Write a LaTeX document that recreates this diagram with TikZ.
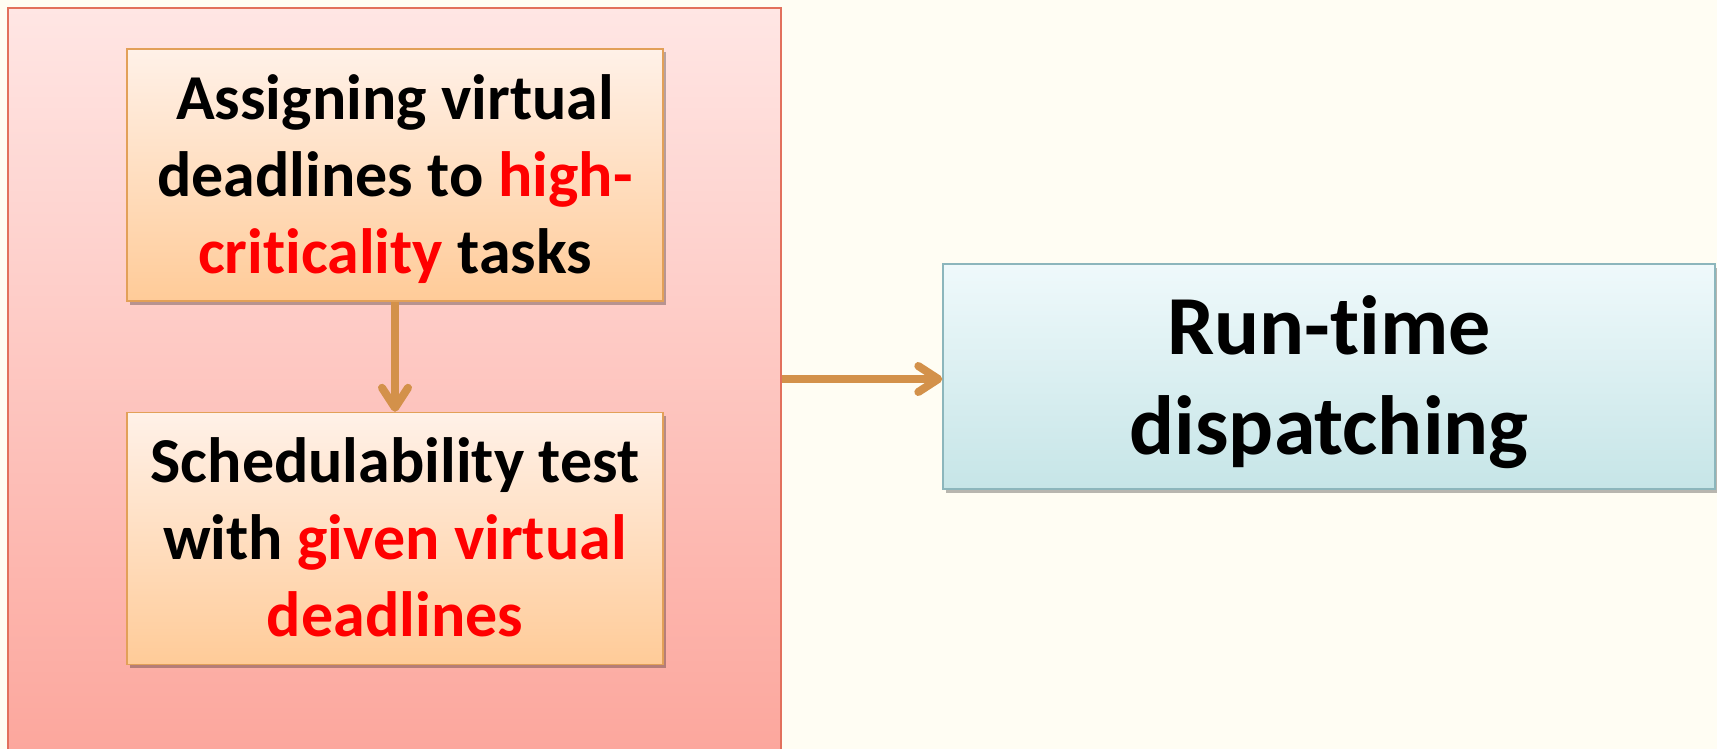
\documentclass[tikz,border=0pt]{standalone}
\usepackage{fontspec}
\setmainfont{Carlito}[Ligatures=NoCommon]
\usetikzlibrary{arrows.meta,shadows}

\definecolor{paper}{RGB}{255,253,243}
\definecolor{pinktop}{RGB}{255,230,228}
\definecolor{pinkbot}{RGB}{252,166,156}
\definecolor{pinkline}{RGB}{226,112,92}
\definecolor{peachtop}{RGB}{255,241,232}
\definecolor{peachbot}{RGB}{255,203,152}
\definecolor{peachline}{RGB}{226,160,88}
\definecolor{bluetop}{RGB}{239,249,251}
\definecolor{bluebot}{RGB}{198,229,231}
\definecolor{blueline}{RGB}{140,182,188}
\definecolor{flow}{RGB}{211,145,74}
\definecolor{hot}{RGB}{255,0,0}

\tikzset{
  softshadow/.style={drop shadow={shadow xshift=2.5pt,shadow yshift=-3.5pt,opacity=0.28,fill=black}},
  stagebox/.style={draw=pinkline,line width=1.4pt,top color=pinktop,bottom color=pinkbot,
    minimum width=773pt,minimum height=752pt,inner sep=0pt},
  % the text box of a multi-line node sits on its last baseline
  taskbox/.style={draw=peachline,line width=1.4pt,top color=peachtop,bottom color=peachbot,
    minimum width=536pt,minimum height=252pt,inner sep=0pt,align=center,softshadow,
    text height=198pt,text depth=2pt,
    font=\bfseries\fontsize{64}{77}\selectfont},
  runbox/.style={draw=blueline,line width=1.4pt,top color=bluetop,bottom color=bluebot,
    minimum width=772pt,minimum height=225pt,inner sep=0pt,align=center,softshadow,
    text height=156pt,text depth=1pt,
    font=\bfseries\fontsize{84}{100}\selectfont},
  flowarrow/.style={draw=flow,line width=8pt,
    -{Straight Barb[length=20pt,width=26pt,round]},
    preaction={draw=black,opacity=0.15,transform canvas={xshift=2pt,yshift=-3pt}}},
}

\begin{document}
\begin{tikzpicture}[x=1pt,y=-1pt]
  \useasboundingbox (0,0) rectangle (1717,749);
  \clip (0,0) rectangle (1717,749);
  \fill[paper] (0,0) rectangle (1717,749);

  % offline stage container
  \node[stagebox] (stage) at (394.5,384) {};

  % offline steps
  \node[taskbox] (assign) at (395,175)
    {Assigning virtual\\deadlines to \textcolor{hot}{high-}\\\textcolor{hot}{criticality} tasks};
  \node[taskbox] (test) at (395,538.5)
    {Schedulability test\\with \textcolor{hot}{given virtual}\\\textcolor{hot}{deadlines}};

  % online stage
  \node[runbox] (run) at (1329,376.5) {Run-time\\dispatching};

  % connectors
  \draw[flowarrow] (assign.south) -- (test.north);
  \draw[flowarrow] (stage.east |- 0,379) coordinate (out) -- (out -| run.west);
\end{tikzpicture}
\end{document}
